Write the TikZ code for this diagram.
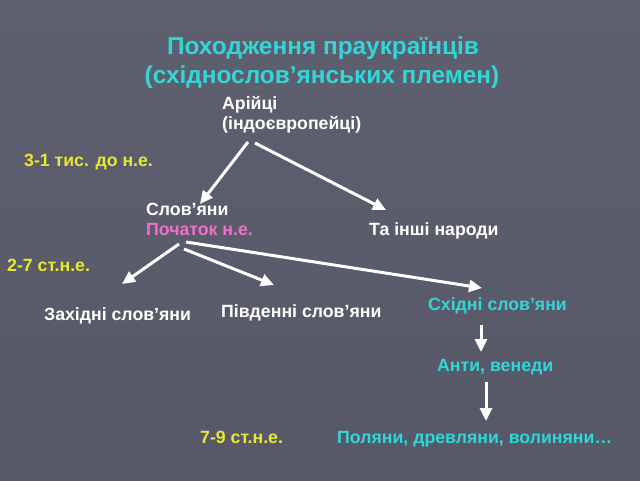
\documentclass[tikz,border=0pt]{standalone}
\usepackage{fontspec}
\setmainfont{Liberation Sans}
\usetikzlibrary{arrows.meta,calc}
\definecolor{bgtop}{RGB}{94,96,112}
\definecolor{bgbot}{RGB}{86,88,104}
\definecolor{titlecyan}{RGB}{51,214,214}
\definecolor{datey}{RGB}{232,232,48}
\definecolor{pinkc}{RGB}{240,112,200}
\tikzset{
  txt/.style={anchor=base west,inner sep=0pt,text=white,font=\bfseries\fontsize{17.7}{21}\selectfont},
  ttl/.style={anchor=base,inner sep=0pt,text=titlecyan,font=\bfseries\fontsize{24.4}{29}\selectfont},
  arr/.style={draw=white,line width=3pt,-{Triangle[length=13pt,width=12pt]}}
}
\begin{document}
\begin{tikzpicture}[x=1pt,y=-1pt]
\shade[top color=bgtop,bottom color=bgbot] (0,0) rectangle (640,480);
\useasboundingbox (0,0) rectangle (640,480);
\node[ttl] (title1) at (323,54) {Походження праукраїнців};
\node[ttl] (title2) at (322,83) {(східнослов’янських племен)};
\node[txt] (arii) at (222,109) {Арійці};
\node[txt] (indo) at (222,129) {(індоєвропейці)};
\node[txt,text=datey] (t31) at (24,166) {3-1 тис. до н.е.};
\node[txt] (slov) at (146,215) {Слов’яни};
\node[txt,text=pinkc] (poch) at (146,235) {Початок н.е.};
\node[txt] (inshi) at (369,235) {Та інші народи};
\node[txt,text=datey] (t27) at (7,271) {2-7 ст.н.е.};
\node[txt] (zah) at (44,320) {Західні слов’яни};
\node[txt] (piv) at (221,317) {Південні слов’яни};
\node[txt,text=titlecyan] (skh) at (428,310) {Східні слов’яни};
\node[txt,text=titlecyan] (anty) at (437,371) {Анти, венеди};
\node[txt,text=datey] (t79) at (200,443) {7-9 ст.н.е.};
\node[txt,text=titlecyan] (pol) at (337,443) {Поляни, древляни, волиняни…};
\draw[arr] ($(indo.base west)+(26,13)$) -- ($(slov.base west)+(54,-11)$);
\draw[arr] ($(indo.base west)+(33,14)$) -- ($(inshi.base west)+(17,-25)$);
\draw[arr] ($(poch.base west)+(33,9)$) -- ($(zah.base west)+(78,-36)$);
\draw[arr] ($(poch.base west)+(38,14)$) -- ($(piv.base west)+(53,-32)$);
\draw[arr] ($(poch.base west)+(40,7)$) -- ($(skh.base west)+(54,-22)$);
\draw[arr] ($(skh.base west)+(53,15)$) -- ($(anty.base west)+(44,-19)$);
\draw[arr] ($(anty.base west)+(49,11)$) -- ($(pol.base west)+(149,-22)$);
\end{tikzpicture}
\end{document}
